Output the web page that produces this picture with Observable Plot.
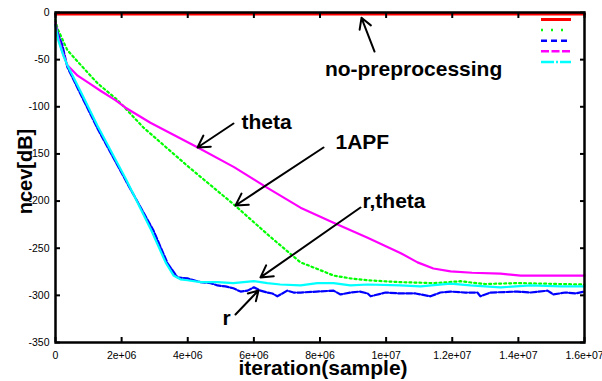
<!DOCTYPE html>
<html><head><meta charset="utf-8">
<script src="https://cdn.jsdelivr.net/npm/d3@7"></script>
<script src="https://cdn.jsdelivr.net/npm/@observablehq/plot@0.6"></script>
<style>body{margin:0;background:#fff;} svg{overflow:visible}</style>
</head><body><div id="chart"></div>
<script>
// ---- data (iterations, dB) ----
const redX = [0, 4e6, 8e6, 1.2e7, 1.6e7];
const redY = [-1.5, -1.5, -1.5, -1.5, -1.5];

const greenX = [0, 0.06e6, 0.36e6, 0.85e6, 1.27e6, 1.88e6, 2.66e6, 4.0e6, 5.44e6, 6.5e6, 7.41e6, 7.92e6, 8.41e6, 8.92e6, 9.44e6, 1.043e7, 1.143e7, 1.19e7, 1.225e7, 1.26e7, 1.3e7, 1.346e7, 1.4e7, 1.467e7, 1.53e7, 1.6e7];
const greenY = [-8, -17, -40, -59, -75, -93, -122, -163, -205, -238, -265, -272, -279, -282, -284, -286, -287, -286, -285, -286.5, -288, -287.5, -287, -287.5, -288, -288.5];

const blueX = [0, 0.09e6, 0.21e6, 0.36e6, 0.82e6, 1.27e6, 2.12e6, 2.96e6, 3.39e6, 3.69e6, 3.99e6, 4.39e6, 4.69e6, 4.9e6, 5.14e6, 5.38e6, 5.6e6, 5.81e6, 6.0e6, 6.2e6, 6.41e6, 6.56e6, 6.71e6, 6.86e6, 7.01e6, 7.2e6, 7.41e6, 7.9e6, 8.41e6, 8.62e6, 8.92e6, 9.2e6, 9.44e6, 9.53e6, 9.98e6, 1.043e7, 1.089e7, 1.134e7, 1.164e7, 1.195e7, 1.24e7, 1.276e7, 1.285e7, 1.316e7, 1.36e7, 1.397e7, 1.437e7, 1.488e7, 1.506e7, 1.542e7, 1.573e7, 1.6e7];
const blueY = [-13, -24, -35, -58, -91, -123, -178, -231, -266, -281, -282, -286, -287, -289.5, -290.5, -292.5, -296, -295, -291.5, -295, -297, -298, -301, -298, -295, -297, -297, -296, -295, -299, -297, -296, -298, -301, -297, -298, -298, -301, -297, -296, -297, -297, -301, -297, -296.5, -296, -297, -295, -299, -297, -298, -296];

const magentaX = [0, 0.06e6, 0.21e6, 0.36e6, 0.67e6, 1.06e6, 1.36e6, 1.81e6, 2.12e6, 2.87e6, 4.29e6, 5.4e6, 6.41e6, 7.41e6, 8.41e6, 9.44e6, 1.043e7, 1.095e7, 1.143e7, 1.195e7, 1.26e7, 1.346e7, 1.407e7, 1.5e7, 1.6e7];
const magentaY = [-10, -24, -42, -56, -67, -76, -83, -93, -101, -117, -143, -164, -186, -207, -223, -239, -255, -265, -271.5, -274.5, -276, -277, -279, -279, -279];

const cyanX = [0, 0.09e6, 0.24e6, 0.36e6, 0.82e6, 1.27e6, 2.12e6, 2.87e6, 3.33e6, 3.57e6, 3.78e6, 3.99e6, 4.39e6, 4.9e6, 5.38e6, 6.0e6, 6.41e6, 6.8e6, 7.41e6, 7.92e6, 8.41e6, 8.92e6, 9.44e6, 1.043e7, 1.104e7, 1.195e7, 1.255e7, 1.3e7, 1.346e7, 1.437e7, 1.528e7, 1.6e7];
const cyanY = [-14, -30, -46, -56, -88, -120, -176, -229, -265, -279, -283, -284, -286, -286, -287, -285, -287, -288.5, -289.5, -287, -287, -289.5, -288.5, -289.5, -290.5, -287.5, -289.5, -290.5, -291.5, -289.5, -290.5, -290.5];

const xTicks = [0, 2e6, 4e6, 6e6, 8e6, 1e7, 1.2e7, 1.4e7, 1.6e7];
const xTickLabels = ["0", "2e+06", "4e+06", "6e+06", "8e+06", "1e+07", "1.2e+07", "1.4e+07", "1.6e+07"];
const yTicks = [-350, -300, -250, -200, -150, -100, -50, 0];
const yTickLabels = ["-350", "-300", "-250", "-200", "-150", "-100", "-50", "0"];

const labelTexts = ["no-preprocessing", "theta", "1APF", "r,theta", "r"];
const labelX = [10.83e6, 5.626e6, 8.469e6, 9.285e6, 5.051e6];
const labelY = [-59.7, -115.9, -137.1, -199.7, -323.8];
const arrowX1 = [9.65e6, 5.384e6, 8.106e6, 9.225e6, 5.444e6];
const arrowY1 = [-41.4, -117.7, -143.2, -206.8, -320.3];
const arrowX2 = [9.255e6, 4.295e6, 5.444e6, 6.2e6, 6.14e6];
const arrowY2 = [-5.6, -143.2, -204.7, -281, -294.8];

// ---- build ----
const toPts = (xs, ys) => xs.map((x, i) => ({x, y: ys[i]}));
const series = [
  {pts: toPts(redX, redY), color: "#ff0000", dash: null, legendDash: null, w: 3, lw: 3},
  {pts: toPts(greenX, greenY), color: "#00ff00", dash: "2,3", legendDash: "2,8", w: 2.2, lw: 2.5},
  {pts: toPts(blueX, blueY), color: "#0000ff", dash: "6,2", legendDash: "6,4", w: 2.2, lw: 2.5},
  {pts: toPts(magentaX, magentaY), color: "#ff00ff", dash: null, legendDash: "8,2.5", w: 2.2, lw: 2.5},
  {pts: toPts(cyanX, cyanY), color: "#00ffff", dash: null, legendDash: "13,2,2,2", w: 2.2, lw: 2.5}
];
const labels = labelTexts.map((t, i) => ({t, x: labelX[i], y: labelY[i], anchor: i === 0 ? "middle" : "start"}));
const arrows = arrowX1.map((x1, i) => ({x1, y1: arrowY1[i], x2: arrowX2[i], y2: arrowY2[i]}));

function legendMark(index, scales, values, dims) {
  const g = d3.create("svg:g");
  const right = dims.width - dims.marginRight;
  series.forEach((s, i) => {
    const yy = dims.marginTop + 7.5 + i * 10.6;
    g.append("line")
      .attr("x1", right - 43).attr("x2", right - 13)
      .attr("y1", yy).attr("y2", yy)
      .attr("stroke", s.color).attr("stroke-width", s.lw)
      .attr("stroke-dasharray", s.legendDash);
  });
  return g.node();
}

const xFmt = d => xTickLabels[xTicks.indexOf(d)];
const yFmt = d => yTickLabels[yTicks.indexOf(d)];
const tickFont = 10.5;

const chart = Plot.plot({
  width: 602, height: 381,
  marginLeft: 55, marginRight: 18, marginTop: 12, marginBottom: 39,
  style: {fontFamily: "'Liberation Sans', Arial, sans-serif", fontSize: tickFont + "px", background: "white", overflow: "visible"},
  x: {domain: [0, 1.6e7]},
  y: {domain: [-350, 0]},
  marks: [
    ...series.map(s => Plot.line(s.pts, {x: "x", y: "y", stroke: s.color, strokeWidth: s.w, strokeDasharray: s.dash})),
    Plot.axisX({anchor: "bottom", ticks: xTicks, tickSize: 0, tickPadding: 9, tickFormat: xFmt, fontSize: tickFont, label: null}),
    Plot.axisY({anchor: "left", ticks: yTicks, tickSize: 0, tickPadding: 6, tickFormat: yFmt, fontSize: tickFont, label: null}),
    Plot.axisX({anchor: "bottom", ticks: xTicks, tickSize: 5, dy: -5, tickFormat: () => "", strokeWidth: 2, label: null}),
    Plot.axisX({anchor: "top", ticks: xTicks, tickSize: 5, dy: 5, tickFormat: () => "", strokeWidth: 2, label: null}),
    Plot.axisY({anchor: "left", ticks: yTicks, tickSize: 5, dx: 5, tickFormat: () => "", strokeWidth: 2, label: null}),
    Plot.axisY({anchor: "right", ticks: yTicks, tickSize: 5, dx: -5, tickFormat: () => "", strokeWidth: 2, label: null}),
    Plot.frame({stroke: "black", strokeWidth: 2.5}),
    Plot.arrow(arrows, {x1: "x1", y1: "y1", x2: "x2", y2: "y2", stroke: "black", strokeWidth: 2, headLength: 10}),
    Plot.text(labels.filter(d => d.anchor === "start"), {x: "x", y: "y", text: "t", textAnchor: "start", lineAnchor: "middle", fontSize: 21, fontWeight: "bold", fill: "black"}),
    Plot.text(labels.filter(d => d.anchor === "middle"), {x: "x", y: "y", text: "t", textAnchor: "middle", lineAnchor: "middle", fontSize: 21, fontWeight: "bold", fill: "black"}),
    Plot.text(["iteration(sample)"], {frameAnchor: "bottom", textAnchor: "middle", lineAnchor: "middle", dy: 26, dx: 3, fontSize: 21, fontWeight: "bold", fill: "black"}),
    Plot.text(["ncev[dB]"], {frameAnchor: "left", rotate: -90, textAnchor: "middle", lineAnchor: "middle", dx: -30, dy: -6, fontSize: 20, fontWeight: "bold", fill: "black"}),
    legendMark
  ]
});
document.getElementById("chart").appendChild(chart);
</script></body></html>
